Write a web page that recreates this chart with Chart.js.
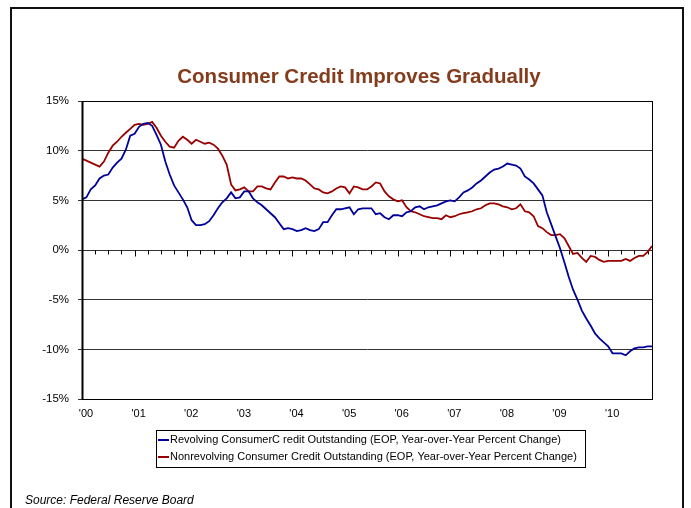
<!DOCTYPE html>
<html>
<head>
<meta charset="utf-8">
<script src="https://cdn.jsdelivr.net/npm/chart.js@4/dist/chart.umd.min.js"></script>
<style>
  html, body { margin: 0; padding: 0; background: #fff; }
  #c { display: block; }
</style>
</head>
<body>
<canvas id="c" width="691" height="508"></canvas>
<script>
// Year-over-year percent change in consumer credit outstanding, monthly, Jan 2000 – Nov 2010
const startYear = 2000;
const yearTickLabels = ["'00", "'01", "'02", "'03", "'04", "'05", "'06", "'07", "'08", "'09", "'10"];
const yTickValues = [-15, -10, -5, 0, 5, 10, 15];

const revolving = [
  5.1, 5.3, 6.1, 6.5, 7.2, 7.5, 7.6, 8.3, 8.8, 9.2, 10.1, 11.5,
  11.7, 12.4, 12.7, 12.8, 12.5, 11.6, 10.6, 8.9, 7.6, 6.5, 5.8, 5.1,
  4.3, 3.0, 2.5, 2.5, 2.6, 2.9, 3.5, 4.2, 4.8, 5.2, 5.8, 5.2,
  5.3, 5.9, 5.9, 5.2, 4.8, 4.5, 4.1, 3.7, 3.3, 2.7, 2.1, 2.2,
  2.1, 1.9, 2.0, 2.2, 2.0, 1.9, 2.1, 2.8, 2.8, 3.5, 4.1, 4.1,
  4.2, 4.3, 3.6, 4.1, 4.2, 4.2, 4.2, 3.6, 3.7, 3.3, 3.1, 3.5,
  3.5, 3.4, 3.8, 3.9, 4.3, 4.4, 4.1, 4.3, 4.4, 4.5, 4.7, 4.9,
  5.0, 4.9, 5.3, 5.8, 6.0, 6.3, 6.7, 7.0, 7.4, 7.8, 8.1, 8.2,
  8.4, 8.7, 8.6, 8.5, 8.2, 7.4, 7.1, 6.7, 6.1, 5.5, 3.8, 2.6,
  1.4, 0.2, -1.2, -2.7, -4.0, -5.0, -6.1, -6.9, -7.6, -8.4, -8.9, -9.3,
  -9.7, -10.4, -10.4, -10.4, -10.6, -10.2, -9.9, -9.8, -9.8, -9.7, -9.7
];

const nonrevolving = [
  9.2, 9.0, 8.8, 8.6, 8.4, 8.9, 9.8, 10.5, 10.9, 11.4, 11.8, 12.2,
  12.6, 12.7, 12.6, 12.7, 12.9, 12.3, 11.5, 10.9, 10.4, 10.3, 11.0, 11.4,
  11.1, 10.7, 11.1, 10.9, 10.7, 10.8, 10.6, 10.2, 9.5, 8.6, 6.6, 6.0,
  6.1, 6.3, 5.9, 5.9, 6.4, 6.4, 6.2, 6.1, 6.8, 7.4, 7.4, 7.2,
  7.3, 7.2, 7.2, 7.0, 6.6, 6.2, 6.1, 5.8, 5.7, 5.9, 6.2, 6.4,
  6.3, 5.7, 6.4, 6.3, 6.1, 6.1, 6.4, 6.8, 6.7, 5.9, 5.4, 5.1,
  4.9, 5.0, 4.3, 3.9, 3.8, 3.6, 3.4, 3.3, 3.2, 3.2, 3.1, 3.5,
  3.3, 3.4, 3.6, 3.7, 3.8, 3.9, 4.1, 4.2, 4.5, 4.7, 4.7, 4.6,
  4.4, 4.3, 4.1, 4.2, 4.6, 3.9, 3.8, 3.4, 2.4, 2.2, 1.8, 1.5,
  1.5, 1.6, 1.2, 0.4, -0.4, -0.3, -0.8, -1.2, -0.6, -0.7, -1.0, -1.2,
  -1.1, -1.1, -1.1, -1.1, -0.9, -1.1, -0.8, -0.6, -0.6, -0.2, 0.4
];

const months = revolving.map((_, i) =>
  `${startYear + Math.floor(i / 12)}-${String(i % 12 + 1).padStart(2, '0')}`);

const seriesNames = [
  'Revolving ConsumerC redit Outstanding (EOP, Year-over-Year Percent Change)',
  'Nonrevolving Consumer Credit Outstanding (EOP, Year-over-Year Percent Change)'
];
const seriesColors = ['#00009a', '#990000'];

const FONT = '"Liberation Sans", Arial, sans-serif';

// Frame, title, axis ticks on the zero line, boxed legend and source note
const decorations = {
  id: 'decorations',
  beforeDatasetsDraw(chart) {
    const { ctx, scales: { x, y } } = chart;
    ctx.save();
    // quarterly tick marks hanging below the 0% line
    const y0 = Math.round(y.getPixelForValue(0)) + 0.5;
    ctx.strokeStyle = '#000';
    ctx.lineWidth = 1;
    ctx.beginPath();
    for (let i = 0; i < months.length; i += 3) {
      const px = Math.round(x.getPixelForValue(i)) + 0.5;
      const len = (i % 12 === 0) ? 6 : 4;
      ctx.moveTo(px, y0);
      ctx.lineTo(px, y0 + len);
    }
    ctx.stroke();
    ctx.restore();
  },
  afterDraw(chart) {
    const { ctx, chartArea: a } = chart;
    ctx.save();
    // plot area box
    ctx.strokeStyle = '#000';
    ctx.lineWidth = 1;
    ctx.strokeRect(Math.round(a.left) + 0.5, Math.round(a.top) + 0.5,
      Math.round(a.right - a.left), Math.round(a.bottom - a.top));
    ctx.lineWidth = 2;
    ctx.beginPath();
    ctx.moveTo(Math.round(a.left) + 0.5, Math.round(a.top));
    ctx.lineTo(Math.round(a.left) + 0.5, Math.round(a.bottom) + 1);
    ctx.stroke();

    // outer frame
    ctx.strokeStyle = '#111';
    ctx.lineWidth = 2;
    ctx.beginPath();
    ctx.moveTo(11, 510);
    ctx.lineTo(11, 8);
    ctx.lineTo(683, 8);
    ctx.lineTo(683, 510);
    ctx.stroke();

    // title
    ctx.fillStyle = '#843c1c';
    ctx.font = 'bold 20.5px ' + FONT;
    ctx.textAlign = 'center';
    ctx.textBaseline = 'middle';
    ctx.fillText('Consumer Credit Improves Gradually', 359, 77);

    // legend box
    const lx = 156, ly = 430, lw = 429, lh = 37;
    ctx.strokeStyle = '#000';
    ctx.lineWidth = 1;
    ctx.strokeRect(lx + 0.5, ly + 0.5, lw, lh);
    ctx.font = '11px ' + FONT;
    ctx.textAlign = 'left';
    ctx.textBaseline = 'middle';
    seriesNames.forEach((name, k) => {
      const ry = ly + 10 + k * 17;
      ctx.strokeStyle = seriesColors[k];
      ctx.lineWidth = 2;
      ctx.beginPath();
      ctx.moveTo(lx + 2, ry);
      ctx.lineTo(lx + 13, ry);
      ctx.stroke();
      ctx.fillStyle = '#000';
      ctx.fillText(name, lx + 14, ry);
    });

    // source note
    ctx.font = 'italic 12px ' + FONT;
    ctx.fillStyle = '#000';
    ctx.textAlign = 'left';
    ctx.textBaseline = 'middle';
    ctx.fillText('Source: Federal Reserve Board', 25, 501);
    ctx.restore();
  }
};

new Chart(document.getElementById('c'), {
  type: 'line',
  data: {
    labels: months,
    datasets: [
      { label: seriesNames[0], data: revolving, borderColor: seriesColors[0] },
      { label: seriesNames[1], data: nonrevolving, borderColor: seriesColors[1] }
    ]
  },
  options: {
    responsive: false,
    animation: false,
    devicePixelRatio: 1,
    layout: { padding: { left: 20, right: 39, top: 101, bottom: 80 } },
    plugins: {
      legend: { display: false },
      title: { display: false },
      tooltip: { enabled: false }
    },
    elements: {
      point: { radius: 0 },
      line: { tension: 0, borderWidth: 1.8, fill: false }
    },
    scales: {
      x: {
        type: 'category',
        offset: false,
        grid: { display: false, drawTicks: false },
        border: { display: false },
        ticks: {
          autoSkip: false,
          maxRotation: 0,
          minRotation: 0,
          padding: 8,
          labelOffset: 4,
          color: '#000',
          font: { family: FONT, size: 11 },
          callback: (v, i) => (i % 12 === 0 ? yearTickLabels[i / 12] : '')
        },
        afterFit: s => { s.height = 29; }
      },
      y: {
        min: -15,
        max: 15,
        afterBuildTicks: s => { s.ticks = yTickValues.map(v => ({ value: v })); },
        ticks: {
          padding: 9,
          color: '#000',
          font: { family: FONT, size: 11.5 },
          callback: v => v + '%'
        },
        grid: { color: '#333', lineWidth: 1, tickLength: 4, drawTicks: true },
        border: { display: true, color: '#000', width: 1 },
        afterFit: s => { s.width = 62; }
      }
    }
  },
  plugins: [decorations]
});
</script>
</body>
</html>
